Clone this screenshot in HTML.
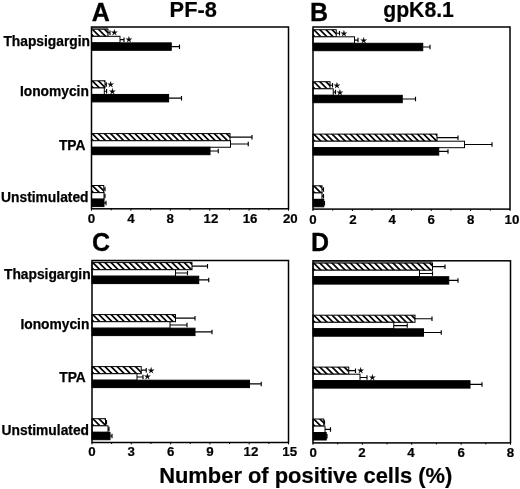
<!DOCTYPE html>
<html lang="en"><head><meta charset="utf-8"><title>Figure</title>
<style>html,body{margin:0;padding:0;background:#fff;}body{width:520px;height:489px;overflow:hidden;}</style></head>
<body>
<svg width="520" height="489" viewBox="0 0 520 489" style="display:block">
<rect width="520" height="489" fill="#fff"/>
<g id="panelA">
<rect x="91.5" y="27" width="16.50" height="2.20" fill="#9a9a9a"/>
<path d="M108,32.77 H110 M110,30.57 V35.07" stroke="#000" stroke-width="1.15" fill="none"/>
<svg x="91.5" y="29.20" width="16.50" height="7.13" overflow="hidden"><rect width="16.50" height="7.13" fill="#fff"/><path d="M-13.40,-2 l11.13,11.13 M-7.30,-2 l11.13,11.13 M-1.20,-2 l11.13,11.13 M4.90,-2 l11.13,11.13 M11.00,-2 l11.13,11.13 " stroke="#000" stroke-width="1.7" fill="none"/></svg>
<rect x="91.5" y="29.20" width="16.50" height="7.13" fill="none" stroke="#000" stroke-width="1"/>
<text x="114.5" y="35.27" font-family="DejaVu Sans, sans-serif" font-size="7.6" text-anchor="middle" fill="#000" stroke="#000" stroke-width="0.3">★</text>
<path d="M120,39.60 H124 M124,37.40 V41.90" stroke="#000" stroke-width="1.15" fill="none"/>
<rect x="91.5" y="36.33" width="28.50" height="6.53" fill="#fff" stroke="#000" stroke-width="1"/>
<text x="129" y="42.10" font-family="DejaVu Sans, sans-serif" font-size="7.6" text-anchor="middle" fill="#000" stroke="#000" stroke-width="0.3">★</text>
<path d="M171.25,46.58 H179.5 M179.5,44.38 V48.88" stroke="#000" stroke-width="1.15" fill="none"/>
<rect x="91.5" y="42.86" width="79.75" height="7.44" fill="#000" stroke="#000" stroke-width="1"/>
<path d="M105,84.37 H106.3 M106.3,82.17 V86.67" stroke="#000" stroke-width="1.15" fill="none"/>
<svg x="91.5" y="80.80" width="13.50" height="7.13" overflow="hidden"><rect width="13.50" height="7.13" fill="#fff"/><path d="M-13.40,-2 l11.13,11.13 M-7.30,-2 l11.13,11.13 M-1.20,-2 l11.13,11.13 M4.90,-2 l11.13,11.13 M11.00,-2 l11.13,11.13 " stroke="#000" stroke-width="1.7" fill="none"/></svg>
<rect x="91.5" y="80.80" width="13.50" height="7.13" fill="none" stroke="#000" stroke-width="1"/>
<text x="110.6" y="86.87" font-family="DejaVu Sans, sans-serif" font-size="7.6" text-anchor="middle" fill="#000" stroke="#000" stroke-width="0.3">★</text>
<path d="M104.3,91.20 H106.6 M106.6,89.00 V93.50" stroke="#000" stroke-width="1.15" fill="none"/>
<rect x="91.5" y="87.93" width="12.80" height="6.53" fill="#fff" stroke="#000" stroke-width="1"/>
<text x="112.4" y="93.70" font-family="DejaVu Sans, sans-serif" font-size="7.6" text-anchor="middle" fill="#000" stroke="#000" stroke-width="0.3">★</text>
<path d="M168.6,98.18 H181.5 M181.5,95.98 V100.48" stroke="#000" stroke-width="1.15" fill="none"/>
<rect x="91.5" y="94.46" width="77.10" height="7.44" fill="#000" stroke="#000" stroke-width="1"/>
<path d="M230,137.17 H252 M252,134.97 V139.47" stroke="#000" stroke-width="1.15" fill="none"/>
<svg x="91.5" y="133.60" width="138.50" height="7.13" overflow="hidden"><rect width="138.50" height="7.13" fill="#fff"/><path d="M-13.40,-2 l11.13,11.13 M-7.30,-2 l11.13,11.13 M-1.20,-2 l11.13,11.13 M4.90,-2 l11.13,11.13 M11.00,-2 l11.13,11.13 M17.10,-2 l11.13,11.13 M23.20,-2 l11.13,11.13 M29.30,-2 l11.13,11.13 M35.40,-2 l11.13,11.13 M41.50,-2 l11.13,11.13 M47.60,-2 l11.13,11.13 M53.70,-2 l11.13,11.13 M59.80,-2 l11.13,11.13 M65.90,-2 l11.13,11.13 M72.00,-2 l11.13,11.13 M78.10,-2 l11.13,11.13 M84.20,-2 l11.13,11.13 M90.30,-2 l11.13,11.13 M96.40,-2 l11.13,11.13 M102.50,-2 l11.13,11.13 M108.60,-2 l11.13,11.13 M114.70,-2 l11.13,11.13 M120.80,-2 l11.13,11.13 M126.90,-2 l11.13,11.13 M133.00,-2 l11.13,11.13 " stroke="#000" stroke-width="1.7" fill="none"/></svg>
<rect x="91.5" y="133.60" width="138.50" height="7.13" fill="none" stroke="#000" stroke-width="1"/>
<path d="M230.5,144.00 H248.25 M248.25,141.80 V146.30" stroke="#000" stroke-width="1.15" fill="none"/>
<rect x="91.5" y="140.73" width="139.00" height="6.53" fill="#fff" stroke="#000" stroke-width="1"/>
<path d="M210,150.98 H218.25 M218.25,148.78 V153.28" stroke="#000" stroke-width="1.15" fill="none"/>
<rect x="91.5" y="147.26" width="118.50" height="7.44" fill="#000" stroke="#000" stroke-width="1"/>
<path d="M103.75,189.07 H105 M105,186.87 V191.37" stroke="#000" stroke-width="1.15" fill="none"/>
<svg x="91.5" y="185.50" width="12.25" height="7.13" overflow="hidden"><rect width="12.25" height="7.13" fill="#fff"/><path d="M-13.40,-2 l11.13,11.13 M-7.30,-2 l11.13,11.13 M-1.20,-2 l11.13,11.13 M4.90,-2 l11.13,11.13 " stroke="#000" stroke-width="1.7" fill="none"/></svg>
<rect x="91.5" y="185.50" width="12.25" height="7.13" fill="none" stroke="#000" stroke-width="1"/>
<path d="M104,195.90 H105 M105,193.70 V198.20" stroke="#000" stroke-width="1.15" fill="none"/>
<rect x="91.5" y="192.63" width="12.50" height="6.53" fill="#fff" stroke="#000" stroke-width="1"/>
<path d="M104,202.88 H106 M106,200.68 V205.18" stroke="#000" stroke-width="1.15" fill="none"/>
<rect x="91.5" y="199.16" width="12.50" height="7.44" fill="#000" stroke="#000" stroke-width="1"/>
<rect x="91.5" y="27" width="197.0" height="181.8" fill="none" stroke="#000" stroke-width="1.5"/>
<path d="M91.50,208.8 v1.9 M111.20,208.8 v1.5 M130.90,208.8 v1.9 M150.60,208.8 v1.5 M170.30,208.8 v1.9 M190.00,208.8 v1.5 M209.70,208.8 v1.9 M229.40,208.8 v1.5 M249.10,208.8 v1.9 M268.80,208.8 v1.5 M288.50,208.8 v1.9 " stroke="#000" stroke-width="1" fill="none"/>
<text x="91.50" y="223.20" font-family='"Liberation Sans", Arial, Helvetica, sans-serif' font-weight="bold" font-size="13.3" text-anchor="middle" fill="#000" stroke="#000" stroke-width="0.2">0</text>
<text x="130.90" y="223.20" font-family='"Liberation Sans", Arial, Helvetica, sans-serif' font-weight="bold" font-size="13.3" text-anchor="middle" fill="#000" stroke="#000" stroke-width="0.2">4</text>
<text x="170.30" y="223.20" font-family='"Liberation Sans", Arial, Helvetica, sans-serif' font-weight="bold" font-size="13.3" text-anchor="middle" fill="#000" stroke="#000" stroke-width="0.2">8</text>
<text x="210.90" y="223.20" font-family='"Liberation Sans", Arial, Helvetica, sans-serif' font-weight="bold" font-size="13.3" text-anchor="middle" fill="#000" stroke="#000" stroke-width="0.2">12</text>
<text x="250.10" y="223.20" font-family='"Liberation Sans", Arial, Helvetica, sans-serif' font-weight="bold" font-size="13.3" text-anchor="middle" fill="#000" stroke="#000" stroke-width="0.2">16</text>
<text x="290.30" y="223.20" font-family='"Liberation Sans", Arial, Helvetica, sans-serif' font-weight="bold" font-size="13.3" text-anchor="middle" fill="#000" stroke="#000" stroke-width="0.2">20</text>
</g>
<g id="panelB">
<path d="M336.25,33.25 H339.5 M339.5,31.05 V35.55" stroke="#000" stroke-width="1.15" fill="none"/>
<svg x="313" y="29.70" width="23.25" height="7.10" overflow="hidden"><rect width="23.25" height="7.10" fill="#fff"/><path d="M-13.40,-2 l11.10,11.10 M-7.30,-2 l11.10,11.10 M-1.20,-2 l11.10,11.10 M4.90,-2 l11.10,11.10 M11.00,-2 l11.10,11.10 M17.10,-2 l11.10,11.10 " stroke="#000" stroke-width="1.7" fill="none"/></svg>
<rect x="313" y="29.70" width="23.25" height="7.10" fill="none" stroke="#000" stroke-width="1"/>
<text x="344" y="35.75" font-family="DejaVu Sans, sans-serif" font-size="7.6" text-anchor="middle" fill="#000" stroke="#000" stroke-width="0.3">★</text>
<path d="M354.5,40.05 H358 M358,37.85 V42.35" stroke="#000" stroke-width="1.15" fill="none"/>
<rect x="313" y="36.80" width="41.50" height="6.50" fill="#fff" stroke="#000" stroke-width="1"/>
<text x="363.75" y="42.55" font-family="DejaVu Sans, sans-serif" font-size="7.6" text-anchor="middle" fill="#000" stroke="#000" stroke-width="0.3">★</text>
<path d="M422.75,47.00 H430 M430,44.80 V49.30" stroke="#000" stroke-width="1.15" fill="none"/>
<rect x="313" y="43.30" width="109.75" height="7.40" fill="#000" stroke="#000" stroke-width="1"/>
<path d="M330,85.25 H332.5 M332.5,83.05 V87.55" stroke="#000" stroke-width="1.15" fill="none"/>
<svg x="313" y="81.70" width="17.00" height="7.10" overflow="hidden"><rect width="17.00" height="7.10" fill="#fff"/><path d="M-13.40,-2 l11.10,11.10 M-7.30,-2 l11.10,11.10 M-1.20,-2 l11.10,11.10 M4.90,-2 l11.10,11.10 M11.00,-2 l11.10,11.10 " stroke="#000" stroke-width="1.7" fill="none"/></svg>
<rect x="313" y="81.70" width="17.00" height="7.10" fill="none" stroke="#000" stroke-width="1"/>
<text x="337" y="87.75" font-family="DejaVu Sans, sans-serif" font-size="7.6" text-anchor="middle" fill="#000" stroke="#000" stroke-width="0.3">★</text>
<path d="M333.25,92.05 H335.5 M335.5,89.85 V94.35" stroke="#000" stroke-width="1.15" fill="none"/>
<rect x="313" y="88.80" width="20.25" height="6.50" fill="#fff" stroke="#000" stroke-width="1"/>
<text x="340" y="94.55" font-family="DejaVu Sans, sans-serif" font-size="7.6" text-anchor="middle" fill="#000" stroke="#000" stroke-width="0.3">★</text>
<path d="M402.25,99.00 H415.5 M415.5,96.80 V101.30" stroke="#000" stroke-width="1.15" fill="none"/>
<rect x="313" y="95.30" width="89.25" height="7.40" fill="#000" stroke="#000" stroke-width="1"/>
<path d="M437,137.65 H458 M458,135.45 V139.95" stroke="#000" stroke-width="1.15" fill="none"/>
<svg x="313" y="134.10" width="124.00" height="7.10" overflow="hidden"><rect width="124.00" height="7.10" fill="#fff"/><path d="M-13.40,-2 l11.10,11.10 M-7.30,-2 l11.10,11.10 M-1.20,-2 l11.10,11.10 M4.90,-2 l11.10,11.10 M11.00,-2 l11.10,11.10 M17.10,-2 l11.10,11.10 M23.20,-2 l11.10,11.10 M29.30,-2 l11.10,11.10 M35.40,-2 l11.10,11.10 M41.50,-2 l11.10,11.10 M47.60,-2 l11.10,11.10 M53.70,-2 l11.10,11.10 M59.80,-2 l11.10,11.10 M65.90,-2 l11.10,11.10 M72.00,-2 l11.10,11.10 M78.10,-2 l11.10,11.10 M84.20,-2 l11.10,11.10 M90.30,-2 l11.10,11.10 M96.40,-2 l11.10,11.10 M102.50,-2 l11.10,11.10 M108.60,-2 l11.10,11.10 M114.70,-2 l11.10,11.10 M120.80,-2 l11.10,11.10 " stroke="#000" stroke-width="1.7" fill="none"/></svg>
<rect x="313" y="134.10" width="124.00" height="7.10" fill="none" stroke="#000" stroke-width="1"/>
<path d="M464.5,144.45 H492 M492,142.25 V146.75" stroke="#000" stroke-width="1.15" fill="none"/>
<rect x="313" y="141.20" width="151.50" height="6.50" fill="#fff" stroke="#000" stroke-width="1"/>
<path d="M438.75,151.40 H448 M448,149.20 V153.70" stroke="#000" stroke-width="1.15" fill="none"/>
<rect x="313" y="147.70" width="125.75" height="7.40" fill="#000" stroke="#000" stroke-width="1"/>
<path d="M322,189.35 H323.5 M323.5,187.15 V191.65" stroke="#000" stroke-width="1.15" fill="none"/>
<svg x="313" y="185.80" width="9.00" height="7.10" overflow="hidden"><rect width="9.00" height="7.10" fill="#fff"/><path d="M-13.40,-2 l11.10,11.10 M-7.30,-2 l11.10,11.10 M-1.20,-2 l11.10,11.10 M4.90,-2 l11.10,11.10 " stroke="#000" stroke-width="1.7" fill="none"/></svg>
<rect x="313" y="185.80" width="9.00" height="7.10" fill="none" stroke="#000" stroke-width="1"/>
<path d="M322,196.15 H323.5 M323.5,193.95 V198.45" stroke="#000" stroke-width="1.15" fill="none"/>
<rect x="313" y="192.90" width="9.00" height="6.50" fill="#fff" stroke="#000" stroke-width="1"/>
<path d="M323.75,203.10 H324.5 M324.5,200.90 V205.40" stroke="#000" stroke-width="1.15" fill="none"/>
<rect x="313" y="199.40" width="10.75" height="7.40" fill="#000" stroke="#000" stroke-width="1"/>
<rect x="313" y="27" width="197" height="182.1" fill="none" stroke="#000" stroke-width="1.5"/>
<path d="M313.00,209.1 v1.9 M332.70,209.1 v1.5 M352.40,209.1 v1.9 M372.10,209.1 v1.5 M391.80,209.1 v1.9 M411.50,209.1 v1.5 M431.20,209.1 v1.9 M450.90,209.1 v1.5 M470.60,209.1 v1.9 M490.30,209.1 v1.5 M510.00,209.1 v1.9 " stroke="#000" stroke-width="1" fill="none"/>
<text x="313.00" y="223.50" font-family='"Liberation Sans", Arial, Helvetica, sans-serif' font-weight="bold" font-size="13.3" text-anchor="middle" fill="#000" stroke="#000" stroke-width="0.2">0</text>
<text x="352.90" y="223.50" font-family='"Liberation Sans", Arial, Helvetica, sans-serif' font-weight="bold" font-size="13.3" text-anchor="middle" fill="#000" stroke="#000" stroke-width="0.2">2</text>
<text x="392.10" y="223.50" font-family='"Liberation Sans", Arial, Helvetica, sans-serif' font-weight="bold" font-size="13.3" text-anchor="middle" fill="#000" stroke="#000" stroke-width="0.2">4</text>
<text x="431.20" y="223.50" font-family='"Liberation Sans", Arial, Helvetica, sans-serif' font-weight="bold" font-size="13.3" text-anchor="middle" fill="#000" stroke="#000" stroke-width="0.2">6</text>
<text x="470.60" y="223.50" font-family='"Liberation Sans", Arial, Helvetica, sans-serif' font-weight="bold" font-size="13.3" text-anchor="middle" fill="#000" stroke="#000" stroke-width="0.2">8</text>
<text x="512.00" y="223.50" font-family='"Liberation Sans", Arial, Helvetica, sans-serif' font-weight="bold" font-size="13.3" text-anchor="middle" fill="#000" stroke="#000" stroke-width="0.2">10</text>
</g>
<g id="panelC">
<rect x="92" y="260.5" width="100.00" height="2.10" fill="#c8c8c8"/>
<path d="M192,266.15 H207.5 M207.5,263.95 V268.45" stroke="#000" stroke-width="1.15" fill="none"/>
<svg x="92" y="262.60" width="100.00" height="7.10" overflow="hidden"><rect width="100.00" height="7.10" fill="#fff"/><path d="M-13.40,-2 l11.10,11.10 M-7.30,-2 l11.10,11.10 M-1.20,-2 l11.10,11.10 M4.90,-2 l11.10,11.10 M11.00,-2 l11.10,11.10 M17.10,-2 l11.10,11.10 M23.20,-2 l11.10,11.10 M29.30,-2 l11.10,11.10 M35.40,-2 l11.10,11.10 M41.50,-2 l11.10,11.10 M47.60,-2 l11.10,11.10 M53.70,-2 l11.10,11.10 M59.80,-2 l11.10,11.10 M65.90,-2 l11.10,11.10 M72.00,-2 l11.10,11.10 M78.10,-2 l11.10,11.10 M84.20,-2 l11.10,11.10 M90.30,-2 l11.10,11.10 M96.40,-2 l11.10,11.10 " stroke="#000" stroke-width="1.7" fill="none"/></svg>
<rect x="92" y="262.60" width="100.00" height="7.10" fill="none" stroke="#000" stroke-width="1"/>
<path d="M175.5,272.95 H187.5 M187.5,270.75 V275.25" stroke="#000" stroke-width="1.15" fill="none"/>
<rect x="92" y="269.70" width="83.50" height="6.50" fill="#fff" stroke="#000" stroke-width="1"/>
<path d="M198.75,279.90 H208.75 M208.75,277.70 V282.20" stroke="#000" stroke-width="1.15" fill="none"/>
<rect x="92" y="276.20" width="106.75" height="7.40" fill="#000" stroke="#000" stroke-width="1"/>
<path d="M175.5,318.15 H195 M195,315.95 V320.45" stroke="#000" stroke-width="1.15" fill="none"/>
<svg x="92" y="314.60" width="83.50" height="7.10" overflow="hidden"><rect width="83.50" height="7.10" fill="#fff"/><path d="M-13.40,-2 l11.10,11.10 M-7.30,-2 l11.10,11.10 M-1.20,-2 l11.10,11.10 M4.90,-2 l11.10,11.10 M11.00,-2 l11.10,11.10 M17.10,-2 l11.10,11.10 M23.20,-2 l11.10,11.10 M29.30,-2 l11.10,11.10 M35.40,-2 l11.10,11.10 M41.50,-2 l11.10,11.10 M47.60,-2 l11.10,11.10 M53.70,-2 l11.10,11.10 M59.80,-2 l11.10,11.10 M65.90,-2 l11.10,11.10 M72.00,-2 l11.10,11.10 M78.10,-2 l11.10,11.10 " stroke="#000" stroke-width="1.7" fill="none"/></svg>
<rect x="92" y="314.60" width="83.50" height="7.10" fill="none" stroke="#000" stroke-width="1"/>
<path d="M170,324.95 H187 M187,322.75 V327.25" stroke="#000" stroke-width="1.15" fill="none"/>
<rect x="92" y="321.70" width="78.00" height="6.50" fill="#fff" stroke="#000" stroke-width="1"/>
<path d="M195,331.90 H212 M212,329.70 V334.20" stroke="#000" stroke-width="1.15" fill="none"/>
<rect x="92" y="328.20" width="103.00" height="7.40" fill="#000" stroke="#000" stroke-width="1"/>
<path d="M141.25,370.15 H146.25 M146.25,367.95 V372.45" stroke="#000" stroke-width="1.15" fill="none"/>
<svg x="92" y="366.60" width="49.25" height="7.10" overflow="hidden"><rect width="49.25" height="7.10" fill="#fff"/><path d="M-13.40,-2 l11.10,11.10 M-7.30,-2 l11.10,11.10 M-1.20,-2 l11.10,11.10 M4.90,-2 l11.10,11.10 M11.00,-2 l11.10,11.10 M17.10,-2 l11.10,11.10 M23.20,-2 l11.10,11.10 M29.30,-2 l11.10,11.10 M35.40,-2 l11.10,11.10 M41.50,-2 l11.10,11.10 " stroke="#000" stroke-width="1.7" fill="none"/></svg>
<rect x="92" y="366.60" width="49.25" height="7.10" fill="none" stroke="#000" stroke-width="1"/>
<text x="151.25" y="372.65" font-family="DejaVu Sans, sans-serif" font-size="7.6" text-anchor="middle" fill="#000" stroke="#000" stroke-width="0.3">★</text>
<path d="M137,376.95 H143 M143,374.75 V379.25" stroke="#000" stroke-width="1.15" fill="none"/>
<rect x="92" y="373.70" width="45.00" height="6.50" fill="#fff" stroke="#000" stroke-width="1"/>
<text x="147.5" y="379.45" font-family="DejaVu Sans, sans-serif" font-size="7.6" text-anchor="middle" fill="#000" stroke="#000" stroke-width="0.3">★</text>
<path d="M249.5,383.90 H261.25 M261.25,381.70 V386.20" stroke="#000" stroke-width="1.15" fill="none"/>
<rect x="92" y="380.20" width="157.50" height="7.40" fill="#000" stroke="#000" stroke-width="1"/>
<path d="M105.5,422.25 H106.5 M106.5,420.05 V424.55" stroke="#000" stroke-width="1.15" fill="none"/>
<svg x="92" y="418.70" width="13.50" height="7.10" overflow="hidden"><rect width="13.50" height="7.10" fill="#fff"/><path d="M-13.40,-2 l11.10,11.10 M-7.30,-2 l11.10,11.10 M-1.20,-2 l11.10,11.10 M4.90,-2 l11.10,11.10 M11.00,-2 l11.10,11.10 " stroke="#000" stroke-width="1.7" fill="none"/></svg>
<rect x="92" y="418.70" width="13.50" height="7.10" fill="none" stroke="#000" stroke-width="1"/>
<path d="M108,429.05 H109 M109,426.85 V431.35" stroke="#000" stroke-width="1.15" fill="none"/>
<rect x="92" y="425.80" width="16.00" height="6.50" fill="#fff" stroke="#000" stroke-width="1"/>
<path d="M110,436.00 H112 M112,433.80 V438.30" stroke="#000" stroke-width="1.15" fill="none"/>
<rect x="92" y="432.30" width="18.00" height="7.40" fill="#000" stroke="#000" stroke-width="1"/>
<rect x="92" y="260.5" width="196.5" height="182.0" fill="none" stroke="#000" stroke-width="1.5"/>
<path d="M92.00,442.5 v1.9 M111.65,442.5 v1.5 M131.30,442.5 v1.9 M150.95,442.5 v1.5 M170.60,442.5 v1.9 M190.25,442.5 v1.5 M209.90,442.5 v1.9 M229.55,442.5 v1.5 M249.20,442.5 v1.9 M268.85,442.5 v1.5 M288.50,442.5 v1.9 " stroke="#000" stroke-width="1" fill="none"/>
<text x="92.00" y="456.30" font-family='"Liberation Sans", Arial, Helvetica, sans-serif' font-weight="bold" font-size="13.3" text-anchor="middle" fill="#000" stroke="#000" stroke-width="0.2">0</text>
<text x="131.30" y="456.30" font-family='"Liberation Sans", Arial, Helvetica, sans-serif' font-weight="bold" font-size="13.3" text-anchor="middle" fill="#000" stroke="#000" stroke-width="0.2">3</text>
<text x="170.60" y="456.30" font-family='"Liberation Sans", Arial, Helvetica, sans-serif' font-weight="bold" font-size="13.3" text-anchor="middle" fill="#000" stroke="#000" stroke-width="0.2">6</text>
<text x="209.90" y="456.30" font-family='"Liberation Sans", Arial, Helvetica, sans-serif' font-weight="bold" font-size="13.3" text-anchor="middle" fill="#000" stroke="#000" stroke-width="0.2">9</text>
<text x="250.90" y="456.30" font-family='"Liberation Sans", Arial, Helvetica, sans-serif' font-weight="bold" font-size="13.3" text-anchor="middle" fill="#000" stroke="#000" stroke-width="0.2">12</text>
<text x="289.70" y="456.30" font-family='"Liberation Sans", Arial, Helvetica, sans-serif' font-weight="bold" font-size="13.3" text-anchor="middle" fill="#000" stroke="#000" stroke-width="0.2">15</text>
</g>
<g id="panelD">
<rect x="313" y="260.8" width="119.50" height="2.30" fill="#8a8a8a"/>
<path d="M432.5,266.65 H445 M445,264.45 V268.95" stroke="#000" stroke-width="1.15" fill="none"/>
<svg x="313" y="263.10" width="119.50" height="7.10" overflow="hidden"><rect width="119.50" height="7.10" fill="#fff"/><path d="M-13.40,-2 l11.10,11.10 M-7.30,-2 l11.10,11.10 M-1.20,-2 l11.10,11.10 M4.90,-2 l11.10,11.10 M11.00,-2 l11.10,11.10 M17.10,-2 l11.10,11.10 M23.20,-2 l11.10,11.10 M29.30,-2 l11.10,11.10 M35.40,-2 l11.10,11.10 M41.50,-2 l11.10,11.10 M47.60,-2 l11.10,11.10 M53.70,-2 l11.10,11.10 M59.80,-2 l11.10,11.10 M65.90,-2 l11.10,11.10 M72.00,-2 l11.10,11.10 M78.10,-2 l11.10,11.10 M84.20,-2 l11.10,11.10 M90.30,-2 l11.10,11.10 M96.40,-2 l11.10,11.10 M102.50,-2 l11.10,11.10 M108.60,-2 l11.10,11.10 M114.70,-2 l11.10,11.10 " stroke="#000" stroke-width="1.7" fill="none"/></svg>
<rect x="313" y="263.10" width="119.50" height="7.10" fill="none" stroke="#000" stroke-width="1"/>
<path d="M419.5,273.45 H432.5 M432.5,271.25 V275.75" stroke="#000" stroke-width="1.15" fill="none"/>
<rect x="313" y="270.20" width="106.50" height="6.50" fill="#fff" stroke="#000" stroke-width="1"/>
<path d="M448.75,280.40 H458 M458,278.20 V282.70" stroke="#000" stroke-width="1.15" fill="none"/>
<rect x="313" y="276.70" width="135.75" height="7.40" fill="#000" stroke="#000" stroke-width="1"/>
<path d="M415,318.75 H432 M432,316.55 V321.05" stroke="#000" stroke-width="1.15" fill="none"/>
<svg x="313" y="315.20" width="102.00" height="7.10" overflow="hidden"><rect width="102.00" height="7.10" fill="#fff"/><path d="M-13.40,-2 l11.10,11.10 M-7.30,-2 l11.10,11.10 M-1.20,-2 l11.10,11.10 M4.90,-2 l11.10,11.10 M11.00,-2 l11.10,11.10 M17.10,-2 l11.10,11.10 M23.20,-2 l11.10,11.10 M29.30,-2 l11.10,11.10 M35.40,-2 l11.10,11.10 M41.50,-2 l11.10,11.10 M47.60,-2 l11.10,11.10 M53.70,-2 l11.10,11.10 M59.80,-2 l11.10,11.10 M65.90,-2 l11.10,11.10 M72.00,-2 l11.10,11.10 M78.10,-2 l11.10,11.10 M84.20,-2 l11.10,11.10 M90.30,-2 l11.10,11.10 M96.40,-2 l11.10,11.10 " stroke="#000" stroke-width="1.7" fill="none"/></svg>
<rect x="313" y="315.20" width="102.00" height="7.10" fill="none" stroke="#000" stroke-width="1"/>
<path d="M393.75,325.55 H407.25 M407.25,323.35 V327.85" stroke="#000" stroke-width="1.15" fill="none"/>
<rect x="313" y="322.30" width="80.75" height="6.50" fill="#fff" stroke="#000" stroke-width="1"/>
<path d="M423.5,332.50 H441.25 M441.25,330.30 V334.80" stroke="#000" stroke-width="1.15" fill="none"/>
<rect x="313" y="328.80" width="110.50" height="7.40" fill="#000" stroke="#000" stroke-width="1"/>
<path d="M348.75,370.65 H355.5 M355.5,368.45 V372.95" stroke="#000" stroke-width="1.15" fill="none"/>
<svg x="313" y="367.10" width="35.75" height="7.10" overflow="hidden"><rect width="35.75" height="7.10" fill="#fff"/><path d="M-13.40,-2 l11.10,11.10 M-7.30,-2 l11.10,11.10 M-1.20,-2 l11.10,11.10 M4.90,-2 l11.10,11.10 M11.00,-2 l11.10,11.10 M17.10,-2 l11.10,11.10 M23.20,-2 l11.10,11.10 M29.30,-2 l11.10,11.10 " stroke="#000" stroke-width="1.7" fill="none"/></svg>
<rect x="313" y="367.10" width="35.75" height="7.10" fill="none" stroke="#000" stroke-width="1"/>
<text x="360.75" y="373.15" font-family="DejaVu Sans, sans-serif" font-size="7.6" text-anchor="middle" fill="#000" stroke="#000" stroke-width="0.3">★</text>
<path d="M360,377.45 H367 M367,375.25 V379.75" stroke="#000" stroke-width="1.15" fill="none"/>
<rect x="313" y="374.20" width="47.00" height="6.50" fill="#fff" stroke="#000" stroke-width="1"/>
<text x="372.5" y="379.95" font-family="DejaVu Sans, sans-serif" font-size="7.6" text-anchor="middle" fill="#000" stroke="#000" stroke-width="0.3">★</text>
<path d="M470,384.40 H482 M482,382.20 V386.70" stroke="#000" stroke-width="1.15" fill="none"/>
<rect x="313" y="380.70" width="157.00" height="7.40" fill="#000" stroke="#000" stroke-width="1"/>
<path d="M323.75,422.55 H324.5 M324.5,420.35 V424.85" stroke="#000" stroke-width="1.15" fill="none"/>
<svg x="313" y="419.00" width="10.75" height="7.10" overflow="hidden"><rect width="10.75" height="7.10" fill="#fff"/><path d="M-13.40,-2 l11.10,11.10 M-7.30,-2 l11.10,11.10 M-1.20,-2 l11.10,11.10 M4.90,-2 l11.10,11.10 " stroke="#000" stroke-width="1.7" fill="none"/></svg>
<rect x="313" y="419.00" width="10.75" height="7.10" fill="none" stroke="#000" stroke-width="1"/>
<path d="M325,429.35 H330.5 M330.5,427.15 V431.65" stroke="#000" stroke-width="1.15" fill="none"/>
<rect x="313" y="426.10" width="12.00" height="6.50" fill="#fff" stroke="#000" stroke-width="1"/>
<path d="M326.25,436.30 H327 M327,434.10 V438.60" stroke="#000" stroke-width="1.15" fill="none"/>
<rect x="313" y="432.60" width="13.25" height="7.40" fill="#000" stroke="#000" stroke-width="1"/>
<rect x="313" y="260.8" width="197.5" height="182.09999999999997" fill="none" stroke="#000" stroke-width="1.5"/>
<path d="M313.00,442.9 v1.9 M337.69,442.9 v1.5 M362.38,442.9 v1.9 M387.06,442.9 v1.5 M411.75,442.9 v1.9 M436.44,442.9 v1.5 M461.12,442.9 v1.9 M485.81,442.9 v1.5 M510.50,442.9 v1.9 " stroke="#000" stroke-width="1" fill="none"/>
<text x="313.30" y="456.90" font-family='"Liberation Sans", Arial, Helvetica, sans-serif' font-weight="bold" font-size="13.3" text-anchor="middle" fill="#000" stroke="#000" stroke-width="0.2">0</text>
<text x="361.98" y="456.90" font-family='"Liberation Sans", Arial, Helvetica, sans-serif' font-weight="bold" font-size="13.3" text-anchor="middle" fill="#000" stroke="#000" stroke-width="0.2">2</text>
<text x="410.95" y="456.90" font-family='"Liberation Sans", Arial, Helvetica, sans-serif' font-weight="bold" font-size="13.3" text-anchor="middle" fill="#000" stroke="#000" stroke-width="0.2">4</text>
<text x="461.12" y="456.90" font-family='"Liberation Sans", Arial, Helvetica, sans-serif' font-weight="bold" font-size="13.3" text-anchor="middle" fill="#000" stroke="#000" stroke-width="0.2">6</text>
<text x="510.50" y="456.90" font-family='"Liberation Sans", Arial, Helvetica, sans-serif' font-weight="bold" font-size="13.3" text-anchor="middle" fill="#000" stroke="#000" stroke-width="0.2">8</text>
</g>
<text x="90" y="45.70" font-family='"Liberation Sans", Arial, Helvetica, sans-serif' font-weight="bold" font-size="13.8" text-anchor="end" fill="#000" stroke="#000" stroke-width="0.25">Thapsigargin</text>
<text x="88.9" y="96.00" font-family='"Liberation Sans", Arial, Helvetica, sans-serif' font-weight="bold" font-size="13.8" text-anchor="end" fill="#000" stroke="#000" stroke-width="0.25">Ionomycin</text>
<text x="85.5" y="150.10" font-family='"Liberation Sans", Arial, Helvetica, sans-serif' font-weight="bold" font-size="13.8" text-anchor="end" fill="#000" stroke="#000" stroke-width="0.25">TPA</text>
<text x="88.5" y="202.40" font-family='"Liberation Sans", Arial, Helvetica, sans-serif' font-weight="bold" font-size="13.8" text-anchor="end" fill="#000" stroke="#000" stroke-width="0.25">Unstimulated</text>
<text x="90.6" y="279.00" font-family='"Liberation Sans", Arial, Helvetica, sans-serif' font-weight="bold" font-size="13.8" text-anchor="end" fill="#000" stroke="#000" stroke-width="0.25">Thapsigargin</text>
<text x="89.4" y="329.00" font-family='"Liberation Sans", Arial, Helvetica, sans-serif' font-weight="bold" font-size="13.8" text-anchor="end" fill="#000" stroke="#000" stroke-width="0.25">Ionomycin</text>
<text x="85.8" y="381.70" font-family='"Liberation Sans", Arial, Helvetica, sans-serif' font-weight="bold" font-size="13.8" text-anchor="end" fill="#000" stroke="#000" stroke-width="0.25">TPA</text>
<text x="89" y="435.00" font-family='"Liberation Sans", Arial, Helvetica, sans-serif' font-weight="bold" font-size="13.8" text-anchor="end" fill="#000" stroke="#000" stroke-width="0.25">Unstimulated</text>
<text x="91.8" y="20.6" font-family='"Liberation Sans", Arial, Helvetica, sans-serif' font-weight="bold" font-size="25" fill="#000" stroke="#000" stroke-width="0.3">A</text>
<text x="310.1" y="20.6" font-family='"Liberation Sans", Arial, Helvetica, sans-serif' font-weight="bold" font-size="25" fill="#000" stroke="#000" stroke-width="0.3">B</text>
<text x="91.9" y="251.4" font-family='"Liberation Sans", Arial, Helvetica, sans-serif' font-weight="bold" font-size="25" fill="#000" stroke="#000" stroke-width="0.3">C</text>
<text x="310.9" y="251.4" font-family='"Liberation Sans", Arial, Helvetica, sans-serif' font-weight="bold" font-size="25" fill="#000" stroke="#000" stroke-width="0.3">D</text>
<text transform="translate(169.6 16.7) scale(1 1.03)" font-family='"Liberation Sans", Arial, Helvetica, sans-serif' font-weight="bold" font-size="21.8" fill="#000" stroke="#000" stroke-width="0.2">PF-8</text>
<text transform="translate(383.2 16.8) scale(1 1.05)" font-family='"Liberation Sans", Arial, Helvetica, sans-serif' font-weight="bold" font-size="21.2" fill="#000" stroke="#000" stroke-width="0.2">gpK8.1</text>
<text x="159.2" y="482.8" font-family='"Liberation Sans", Arial, Helvetica, sans-serif' font-weight="bold" font-size="21.9" fill="#000" stroke="#000" stroke-width="0.2">Number of positive cells (%)</text>
</svg>
</body></html>
